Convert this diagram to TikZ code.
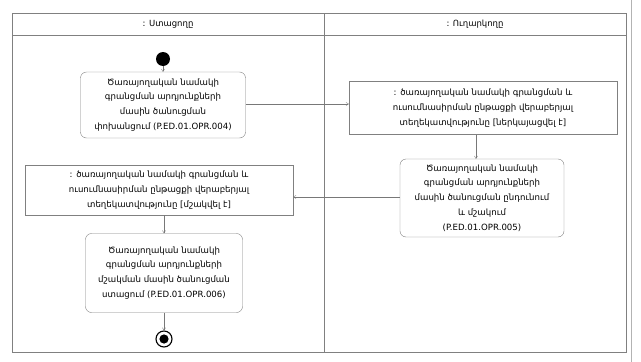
\documentclass[tikz,border=0pt]{standalone}
\usepackage{fontspec}
\setmainfont{DejaVu Sans}
\usepackage{tikz}
\usetikzlibrary{arrows.meta, positioning, calc}
\definecolor{lanec}{RGB}{128,128,128}
\definecolor{flowc}{RGB}{120,120,120}

\begin{document}
\begin{tikzpicture}[x=1pt,y=-1pt,
  lanetxt/.style={font=\fontsize{8.5}{10}\selectfont},
  action/.style={draw=lanec,rounded corners=6pt,align=center,inner sep=2pt,
    font=\fontsize{8.6}{14.8}\selectfont},
  objbox/.style={draw=lanec,align=center,inner sep=2pt,
    font=\fontsize{8.6}{14.8}\selectfont},
  flow/.style={draw=flowc,-{To[length=3pt,width=3.5pt]}},
  initstate/.style={circle,fill=black,minimum size=14pt,inner sep=0pt},
  finalstate/.style={circle,draw=black,line width=1.1pt,minimum size=16pt,inner sep=0pt,
    path picture={\fill[black] (path picture bounding box.center) circle (4.6pt);}}]
			\useasboundingbox (0,0) rectangle (641,362);
			% swimlanes
			\draw[lanec,line width=1pt] (12,13) rectangle (626,352);
			\draw[lanec,line width=1pt] (12,35) -- (626,35);
			\draw[lanec,line width=1pt] (324,13) -- (324,352);
			\draw[lanec!60,line width=0.8pt] (631,0) -- (631,362);
			\node[lanetxt] (recv) at (168,24) {: Ստացողը};
			\node[lanetxt] (send) at (475,24) {: Ուղարկողը};
			% states and actions
			\node[initstate] (start) at (163,59) {};
			\node[action,minimum width=165pt,minimum height=66pt] (notify) at (163,105)
				{Ծառայողական նամակի\\ գրանցման արդյունքների\\ մասին ծանուցման\\ փոխանցում (P.ED.01.OPR.004)};
			\node[objbox,minimum width=268pt,minimum height=53pt] (infoA) at (483,108)
				{: ծառայողական նամակի գրանցման և\\ ուսումնասիրման ընթացքի վերաբերյալ\\ տեղեկատվությունը [ներկայացվել է]};
			\node[action,minimum width=164pt,minimum height=78pt] (process) at (482,198)
				{Ծառայողական նամակի\\ գրանցման արդյունքների\\ մասին ծանուցման ընդունում\\ և մշակում\\ (P.ED.01.OPR.005)};
			\node[objbox,minimum width=268pt,minimum height=50pt] (infoB) at (159,190)
				{: ծառայողական նամակի գրանցման և\\ ուսումնասիրման ընթացքի վերաբերյալ\\ տեղեկատվությունը [մշակվել է]};
			\node[action,minimum width=157pt,minimum height=79pt] (receive) at (164,273)
				{Ծառայողական նամակի\\ գրանցման արդյունքների\\ մշակման մասին ծանուցման\\ ստացում (P.ED.01.OPR.006)};
			\node[finalstate] (end) at (164,339) {};
			% control and object flows
			\draw[flow] (start) -- (start |- notify.north);
			\draw[flow] (notify.east |- 0,104) -- (infoA.west |- 0,104);
			\draw[flow] (infoA.south -| 476,0) -- (process.north -| 476,0);
			\draw[flow] (process.west |- 0,197) -- (infoB.east |- 0,197);
			\draw[flow] (infoB.south -| 164,0) -- (receive.north -| 164,0);
			\draw[flow] (receive) -- (end);
\end{tikzpicture}
\end{document}
